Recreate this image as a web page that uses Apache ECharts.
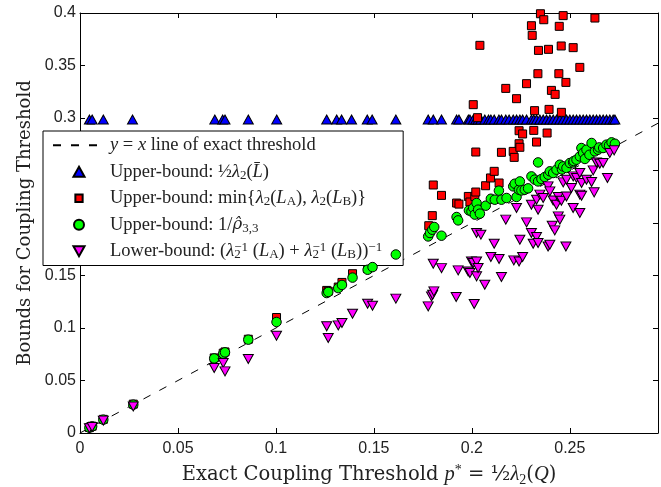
<!DOCTYPE html>
<html><head><meta charset="utf-8">
<script src="https://cdn.jsdelivr.net/npm/echarts@6/dist/echarts.min.js"></script>
<style>html,body{margin:0;padding:0;background:#fff}#c{width:661px;height:487px}</style>
</head><body><div id="c"></div>
<script>
// ---- data ----
const xTickValues = [0, 0.05, 0.1, 0.15, 0.2, 0.25];
const yTickValues = [0, 0.05, 0.1, 0.15, 0.2, 0.25, 0.3, 0.35, 0.4];
const linePts = [[0, 0], [0.295, 0.295]];

const blueX = [0.0048, 0.0062, 0.0119, 0.0268, 0.0688, 0.0728, 0.0740, 0.0859, 0.1004, 0.1259, 0.1310, 0.1335,
  0.1386, 0.1466, 0.1491, 0.1612, 0.1777, 0.1803, 0.1845, 0.1922, 0.1934, 0.1982, 0.1990, 0.2007, 0.2020, 0.2032,
  0.2046, 0.2066, 0.2085, 0.2097, 0.2114, 0.2138, 0.2151, 0.2173, 0.2190, 0.2211, 0.2228, 0.2245, 0.2259, 0.2279,
  0.2304, 0.2316, 0.2330, 0.2347, 0.2364, 0.2381, 0.2398, 0.2415, 0.2432, 0.2449, 0.2466, 0.2483, 0.2500, 0.2517,
  0.2534, 0.2551, 0.2568, 0.2585, 0.2602, 0.2619, 0.2636, 0.2653, 0.2670, 0.2687, 0.2704, 0.2721, 0.2730];
const blueY = 0.2985;

const redPts = [[0.0048,0.0052],[0.0062,0.0065],[0.0119,0.0130],[0.0272,0.0275],[0.0685,0.0715],[0.0731,0.0760],
  [0.0740,0.0772],[0.0859,0.0893],[0.1003,0.1100],[0.1259,0.1358],[0.1267,0.1350],[0.1318,0.1390],[0.1337,0.1434],
  [0.1391,0.1517],[0.1468,0.1565],[0.1493,0.1590],
  [0.1780,0.1974],[0.1798,0.2070],[0.1803,0.2362],[0.1845,0.2263],[0.1922,0.2190],[0.1934,0.2180],[0.1982,0.2253],
  [0.1990,0.2200],[0.2007,0.3127],[0.2015,0.2253],[0.2020,0.2295],[0.2020,0.2676],[0.2029,0.3003],[0.2041,0.3692],
  [0.2070,0.2355],[0.2095,0.2429],[0.2114,0.2492],[0.2139,0.2381],[0.2151,0.2673],[0.2173,0.3282],[0.2211,0.2682],
  [0.2216,0.2625],[0.2228,0.3184],[0.2241,0.2755],[0.2241,0.2879],[0.2245,0.2721],[0.2259,0.2848],[0.2279,0.3327],
  [0.2304,0.3879],[0.2308,0.3787],[0.2316,0.2882],[0.2320,0.3070],[0.2330,0.2771],[0.2337,0.3422],[0.2340,0.3644],
  [0.2350,0.3993],[0.2367,0.3936],[0.2384,0.2857],[0.2391,0.3654],[0.2394,0.3082],[0.2406,0.3263],[0.2425,0.3225],
  [0.2444,0.3422],[0.2446,0.3873],[0.2456,0.3686],[0.2457,0.3054],[0.2466,0.3975],[0.2480,0.3339],[0.2517,0.3670],
  [0.2551,0.3482],[0.2628,0.3952]];

const greenPts = [[0.0048,0.0050],[0.0062,0.0063],[0.0119,0.0127],[0.0272,0.0270],[0.0685,0.0710],[0.0731,0.0755],
  [0.0740,0.0768],[0.0859,0.0889],[0.1003,0.1057],[0.1259,0.1333],[0.1267,0.1343],[0.1318,0.1380],[0.1337,0.1410],
  [0.1391,0.1480],[0.1468,0.1555],[0.1493,0.1580],[0.1612,0.1700],
  [0.1777,0.1872],[0.1786,0.1905],[0.1798,0.1936],[0.1808,0.1962],[0.1845,0.1879],[0.1922,0.2057],[0.1930,0.2025],
  [0.1985,0.2120],[0.1998,0.2110],[0.2007,0.2143],[0.2015,0.2080],[0.2024,0.2190],[0.2032,0.2127],[0.2041,0.2089],
  [0.2071,0.2165],[0.2097,0.2231],[0.2117,0.2222],[0.2138,0.2308],[0.2151,0.2222],[0.2177,0.2238],[0.2211,0.2349],
  [0.2219,0.2374],[0.2228,0.2248],[0.2240,0.2317],[0.2245,0.2396],[0.2253,0.2310],[0.2270,0.2317],[0.2287,0.2330],
  [0.2304,0.2444],[0.2321,0.2413],[0.2338,0.2396],[0.2338,0.2577],[0.2355,0.2419],[0.2372,0.2438],[0.2390,0.2460],
  [0.2398,0.2492],[0.2415,0.2476],[0.2432,0.2508],[0.2449,0.2555],[0.2460,0.2510],[0.2466,0.2539],[0.2483,0.2524],
  [0.2500,0.2571],[0.2517,0.2577],[0.2520,0.2590],[0.2534,0.2603],[0.2551,0.2634],[0.2559,0.2714],[0.2568,0.2667],
  [0.2577,0.2610],[0.2585,0.2698],[0.2600,0.2650],[0.2611,0.2762],[0.2628,0.2682],[0.2644,0.2698],[0.2650,0.2720],
  [0.2670,0.2714],[0.2687,0.2746],[0.2700,0.2740],[0.2713,0.2768],[0.2730,0.2755]];

const magentaPts = [[0.0048,0.0045],[0.0062,0.0058],[0.0119,0.0118],[0.0272,0.0253],[0.0685,0.0619],[0.0731,0.0667],
  [0.0740,0.0587],[0.0859,0.0705],[0.1003,0.0927],[0.1259,0.1016],[0.1267,0.0905],[0.1318,0.1025],[0.1337,0.1048],
  [0.1391,0.1136],[0.1468,0.1231],[0.1493,0.1212],[0.1612,0.1280],
  [0.1777,0.1206],[0.1794,0.1301],[0.1800,0.1317],[0.1806,0.1349],[0.1803,0.1612],[0.1845,0.1570],[0.1920,0.1295],
  [0.1930,0.1549],[0.1981,0.1539],[0.1990,0.1524],[0.1998,0.1634],[0.2007,0.1619],[0.2012,0.1229],[0.2024,0.1634],
  [0.2024,0.1492],[0.2032,0.1571],[0.2024,0.1905],[0.2046,0.1889],[0.2066,0.1412],[0.2097,0.1676],[0.2114,0.1803],
  [0.2139,0.1657],[0.2151,0.1486],[0.2173,0.2032],[0.2214,0.1644],[0.2241,0.1634],[0.2259,0.1676],[0.2228,0.2143],
  [0.2245,0.1841],[0.2279,0.2006],[0.2304,0.1905],[0.2304,0.2174],[0.2313,0.1803],[0.2330,0.1867],[0.2338,0.1810],
  [0.2330,0.2222],[0.2338,0.2127],[0.2347,0.2270],[0.2364,0.2238],[0.2389,0.1777],[0.2398,0.1793],[0.2389,0.2349],
  [0.2398,0.2301],[0.2410,0.1974],[0.2415,0.2215],[0.2423,0.1930],[0.2432,0.2174],[0.2441,0.2248],[0.2441,0.2063],
  [0.2449,0.2032],[0.2457,0.2212],[0.2466,0.2387],[0.2480,0.1777],[0.2483,0.2253],[0.2483,0.2412],[0.2508,0.2333],
  [0.2517,0.2444],[0.2517,0.2143],[0.2534,0.2429],[0.2551,0.2476],[0.2551,0.2270],[0.2551,0.2095],[0.2560,0.2381],
  [0.2560,0.2260],[0.2585,0.2412],[0.2611,0.2390],[0.2619,0.2501],[0.2624,0.2292],[0.2636,0.2577],[0.2653,0.2565],
  [0.2670,0.2571],[0.2692,0.2429],[0.2704,0.2667],[0.2726,0.2692]];

const names = ['y = x line of exact threshold', 'Upper-bound: ½λ2(L̄)', 'Upper-bound: min{λ2(LA), λ2(LB)}',
  'Upper-bound: 1/ρ̂3,3', 'Lower-bound: (λ2^-1(LA) + λ2^-1(LB))^-1'];
const legendRich = [
  '{i|y} = {i|x} line of exact threshold',
  'Upper-bound: {fr|½}{i|λ}{sub|2}({i|L̄})',
  'Upper-bound: min{{i|λ}{sub|2}({i|L}{sub|A}), {i|λ}{sub|2}({i|L}{sub|B})}',
  'Upper-bound: 1/{ih|ρ̂}{sub|3,3}',
  'Lower-bound: ({i|λ}{s0|2}{sup|−1} ({i|L}{sub|A}) + {i|λ}{s0|2}{sup|−1} ({i|L}{sub|B})){sup|−1}'
];
const legendIcons = ['', 'path://M5,0L10,9L0,9Z', 'path://M-1.5,-1.5M9.5,9.5M0,0L8,0L8,8L0,8Z',
  'path://M5,0A5,5 0 1 1 5,10A5,5 0 1 1 5,0Z', 'path://M0,0L10,0L5,9Z'];

const SERIF = 'DejaVu Serif';
const LSERIF = 'Liberation Serif';
const SANS = 'Liberation Sans';
const richSet = (fam, fs, sfs) => ({
  i: {fontFamily: LSERIF, fontStyle: 'italic', fontSize: fs, color: '#222'},
  ih: {fontFamily: SERIF, fontStyle: 'italic', fontSize: fs - 2, color: '#222'},
  fr: {fontFamily: fam, fontSize: fs, color: '#222'},
  sub: {fontFamily: LSERIF, fontSize: sfs, verticalAlign: 'bottom', lineHeight: sfs + 1, color: '#222'},
  s0: {fontFamily: LSERIF, fontSize: sfs, verticalAlign: 'bottom', lineHeight: sfs + 1, width: 0.01, color: '#222'},
  sup: {fontFamily: LSERIF, fontSize: sfs, verticalAlign: 'top', lineHeight: sfs + 1, color: '#222'}
});

const chart = echarts.init(document.getElementById('c'), null, {renderer: 'canvas'});
const axisCommon = {
  type: 'value', splitLine: {show: false},
  axisLine: {show: true, onZero: false, lineStyle: {color: '#000', width: 1}},
  axisTick: {show: true, inside: true, length: 5, lineStyle: {color: '#000'}}
};
const option = {
  animation: false,
  backgroundColor: '#fff',
  grid: {left: 80, right: 3, top: 13, bottom: 54, containLabel: false, outerBoundsMode: 'none'},
  xAxis: [
    Object.assign({}, axisCommon, {
      position: 'bottom', min: xTickValues[0], max: 0.295, interval: 0.05,
      axisLabel: {show: true, fontFamily: SANS, fontSize: 16, color: '#222', margin: 8, showMaxLabel: false,
        formatter: v => (xTickValues.some(t => Math.abs(t - v) < 1e-9) ? String(+v.toFixed(2)) : '')},
      name: 'Exact Coupling Threshold {i|p}{sup|*} = {fr|½}{i|λ}{sub|2}({i|Q})',
      nameLocation: 'middle', nameGap: 30,
      nameTextStyle: {fontFamily: SERIF, fontSize: 19.5, color: '#222', lineHeight: 24, rich: richSet(SERIF, 20.5, 14)}
    }),
    Object.assign({}, axisCommon, {
      position: 'top', min: xTickValues[0], max: 0.295, interval: 0.05, axisLabel: {show: false}
    })
  ],
  yAxis: [
    Object.assign({}, axisCommon, {
      position: 'left', min: yTickValues[0], max: yTickValues[yTickValues.length - 1], interval: 0.05,
      axisLabel: {show: true, fontFamily: SANS, fontSize: 16, color: '#222', margin: 4,
        formatter: v => String(+v.toFixed(2))},
      name: 'Bounds for Coupling Threshold', nameLocation: 'middle', nameGap: 40,
      nameTextStyle: {fontFamily: SERIF, fontSize: 18, color: '#222'}
    }),
    Object.assign({}, axisCommon, {
      position: 'right', min: yTickValues[0], max: yTickValues[yTickValues.length - 1], interval: 0.05,
      axisLabel: {show: false}
    })
  ],
  legend: {
    orient: 'vertical', left: 43, top: 131,
    padding: [4, 21, 4, 9],
    itemWidth: 52, itemHeight: 10, itemGap: 6,
    backgroundColor: '#fff', borderColor: '#000', borderWidth: 1, borderRadius: 0,
    data: names.map((n, k) => k === 0
      ? {name: n, itemStyle: {color: 'rgba(0,0,0,0)', borderColor: 'rgba(0,0,0,0)', borderWidth: 0}}
      : {name: n, icon: legendIcons[k]}),
    formatter: name => legendRich[names.indexOf(name)],
    textStyle: {fontFamily: LSERIF, fontSize: 18.5, color: '#222', lineHeight: 20.5, rich: richSet(LSERIF, 18.5, 13)}
  },
  series: [
    {name: names[0], type: 'line', data: linePts, symbol: 'none', silent: true,
      itemStyle: {color: '#000'},
      lineStyle: {color: '#000', width: 1, type: [8, 10]}, z: 1},
    {name: names[1], type: 'scatter', data: blueX.map(x => [x, blueY]), symbol: 'triangle', symbolSize: [10, 9],
      itemStyle: {color: '#0000ff', borderColor: '#000', borderWidth: 1, opacity: 1}, z: 2},
    {name: names[2], type: 'scatter', data: redPts, symbol: 'rect', symbolSize: 8,
      itemStyle: {color: '#ff0000', borderColor: '#000', borderWidth: 1, opacity: 1}, z: 3},
    {name: names[3], type: 'scatter', data: greenPts, symbol: 'circle', symbolSize: 9.5,
      itemStyle: {color: '#00ff00', borderColor: '#000', borderWidth: 1, opacity: 1}, z: 4},
    {name: names[4], type: 'scatter', data: magentaPts, symbol: 'triangle', symbolRotate: 180, symbolSize: [10, 9],
      itemStyle: {color: '#ff00ff', borderColor: '#000', borderWidth: 1, opacity: 1}, z: 5}
  ]
};
chart.setOption(option);
</script></body></html>
